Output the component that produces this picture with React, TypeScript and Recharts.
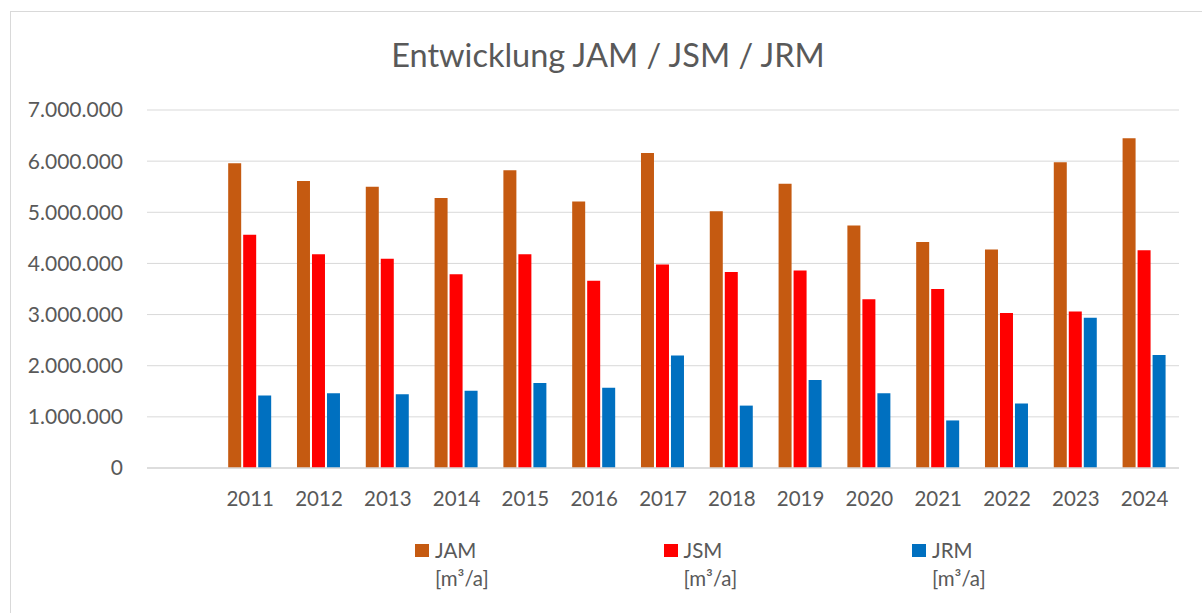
import React from 'react';
import { BarChart, Bar, XAxis, YAxis, CartesianGrid, Legend } from 'recharts';

const years = ['2011', '2012', '2013', '2014', '2015', '2016', '2017', '2018', '2019', '2020', '2021', '2022', '2023', '2024'];
const jam = [5960000, 5610000, 5500000, 5280000, 5820000, 5210000, 6160000, 5020000, 5560000, 4740000, 4420000, 4270000, 5980000, 6450000];
const jsm = [4560000, 4180000, 4090000, 3790000, 4180000, 3660000, 3980000, 3830000, 3860000, 3300000, 3500000, 3030000, 3060000, 4260000];
const jrm = [1420000, 1460000, 1440000, 1510000, 1660000, 1570000, 2200000, 1220000, 1720000, 1460000, 930000, 1260000, 2940000, 2210000];
const yTicks = [0, 1000000, 2000000, 3000000, 4000000, 5000000, 6000000, 7000000];
const seriesKeys = ['JAM', 'JSM', 'JRM'];
const seriesColors = ['#C55A11', '#FF0000', '#0070C0'];
const unitLabel = '[m³/a]';
const title = 'Entwicklung JAM / JSM / JRM';

// leading empty category, as in the original chart
const data = [
  { year: '', JAM: null, JSM: null, JRM: null },
  ...years.map((y, i) => ({ year: y, JAM: jam[i], JSM: jsm[i], JRM: jrm[i] })),
];

const FONT = 'Lato, "Liberation Sans", sans-serif';
const TEXT = '#595959';

const fmt = (v: number) => String(v).replace(/\B(?=(\d{3})+(?!\d))/g, '.');

const LegendContent = () => (
  <div style={{ display: 'flex', paddingLeft: 415, fontFamily: FONT, fontSize: 20.5, color: TEXT, lineHeight: '28px' }}>
    {seriesKeys.map((k, i) => (
      <div key={k} style={{ width: 248.5, position: 'relative', paddingLeft: 20, boxSizing: 'border-box' }}>
        <div style={{ position: 'absolute', left: 0, top: 7.5, width: 14, height: 13, background: seriesColors[i] }} />
        <div>{k}</div>
        <div>{unitLabel}</div>
      </div>
    ))}
  </div>
);

export default function App() {
  return (
    <div style={{ position: 'absolute', left: 0, top: 0, width: 1202, height: 613, overflow: 'hidden', background: '#fff' }}>
      <div style={{ position: 'absolute', left: 10, top: 11, width: 1220, height: 640, border: '1px solid #d9d9d9' }} />
      <div
        style={{
          position: 'absolute', left: 0, top: 35, width: 1216, textAlign: 'center',
          fontFamily: FONT, fontSize: 32.5, lineHeight: '40px', color: TEXT,
        }}
      >
        {title}
      </div>
      <div style={{ position: 'absolute', left: 0, top: 0 }}>
        <BarChart
          width={1202}
          height={613}
          data={data}
          margin={{ top: 110, right: 23, left: 0, bottom: 85 }}
          barCategoryGap="18%"
          barGap={2}
        >
          <CartesianGrid vertical={false} stroke="#d9d9d9" strokeWidth={1} />
          <XAxis
            dataKey="year"
            height={60}
            interval={0}
            tickLine={false}
            axisLine={{ stroke: '#d9d9d9', strokeWidth: 1.5 }}
            tickSize={0}
            tickMargin={23}
            tick={{ fill: TEXT, fontSize: 20.5, fontFamily: FONT }}
          />
          <YAxis
            width={147}
            domain={[0, 7000000]}
            ticks={yTicks}
            interval={0}
            tickFormatter={fmt}
            tickLine={false}
            axisLine={false}
            tickSize={0}
            tickMargin={24}
            tick={{ fill: TEXT, fontSize: 21, fontFamily: FONT }}
          />
          <Legend
            verticalAlign="middle"
            align="center"
            layout="horizontal"
            content={LegendContent}
            wrapperStyle={{ position: 'absolute', left: 0, top: 536, width: 1202, height: 60 }}
          />
          {seriesKeys.map((k, i) => (
            <Bar key={k} dataKey={k} name={k} fill={seriesColors[i]} isAnimationActive={false} />
          ))}
        </BarChart>
      </div>
    </div>
  );
}
